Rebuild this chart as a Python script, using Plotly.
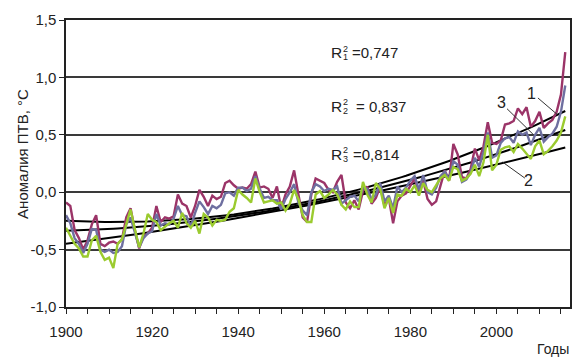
import numpy as np
import plotly.graph_objects as go

years = list(range(1900, 2017))

# Series 1 (maroon)
s1 = [
    -0.09, -0.12, -0.33, -0.40, -0.50, -0.42, -0.28, -0.20, -0.45, -0.47,   # 1900-1909
    -0.44, -0.43, -0.45, -0.41, -0.22, -0.14, -0.33, -0.49, -0.38, -0.36,   # 1910-1919
    -0.31, -0.12, -0.26, -0.22, -0.23, -0.21, -0.02, -0.10, -0.12, -0.22,   # 1920-1929
    -0.12,  0.02, -0.04, -0.12, -0.03, -0.06, -0.04,  0.08,  0.10,  0.06,   # 1930-1939
     0.03,  0.04,  0.03,  0.07,  0.18,  0.04,  0.05,  0.03, -0.05,  0.05,   # 1940-1949
    -0.14, -0.02,  0.05,  0.19, -0.02, -0.22, -0.26, -0.02,  0.12,  0.10,   # 1950-1959
     0.08,  0.02,  0.00,  0.09,  0.15, -0.09, -0.14, -0.07, -0.15,  0.01,   # 1960-1969
     0.05, -0.10, -0.05,  0.05, -0.12, -0.05, -0.27, -0.08, -0.03, -0.01,   # 1970-1979
     0.06,  0.12,  0.00,  0.10, -0.06, -0.11, -0.08,  0.05,  0.19,  0.10,   # 1980-1989
     0.42,  0.33,  0.13,  0.12,  0.20,  0.38,  0.28,  0.40,  0.61,  0.43,   # 1990-1999
     0.42,  0.45,  0.59,  0.60,  0.62,  0.73,  0.68,  0.74,  0.57,  0.62,   # 2000-2009
     0.70,  0.56,  0.60,  0.63,  0.70,  0.85,  1.22,                        # 2010-2016
]

# Series 2 (green)
s2 = [
    -0.31, -0.38, -0.45, -0.49, -0.56, -0.56, -0.42, -0.38, -0.52, -0.59,
    -0.57, -0.66, -0.45, -0.41, -0.28, -0.15, -0.32, -0.48, -0.36, -0.19,
    -0.24, -0.26, -0.33, -0.30, -0.27, -0.25, -0.31, -0.18, -0.27, -0.31,
    -0.25, -0.36, -0.19, -0.22, -0.29, -0.24, -0.25, -0.24, -0.17, -0.14,
     0.02, -0.02, -0.05, -0.09,  0.12,  0.00, -0.09, -0.08, -0.07, -0.10,
    -0.09, -0.16, -0.10,  0.02, -0.06, -0.20, -0.26, -0.26, -0.02,  0.01,
    -0.05, -0.02,  0.02, -0.02, -0.11, -0.15, -0.08, -0.13, -0.13,  0.09,
    -0.02, -0.09,  0.08,  0.03, -0.14, -0.05, -0.18, -0.02, -0.03,  0.03,
     0.00,  0.06, -0.03,  0.08,  0.02,  0.00,  0.06,  0.12,  0.15,  0.10,
     0.22,  0.20,  0.10,  0.12,  0.16,  0.24,  0.14,  0.26,  0.50,  0.19,
     0.24,  0.37,  0.39,  0.40,  0.35,  0.42,  0.38,  0.33,  0.29,  0.40,
     0.45,  0.33,  0.36,  0.40,  0.45,  0.52,  0.66,
]

# Series 3 (slate blue)
s3 = [
    -0.20, -0.27, -0.40, -0.45, -0.53, -0.45, -0.32, -0.33, -0.50, -0.52,
    -0.50, -0.53, -0.52, -0.47, -0.28, -0.22, -0.35, -0.48, -0.40, -0.36,
    -0.34, -0.19, -0.29, -0.27, -0.28, -0.23, -0.12, -0.20, -0.21, -0.30,
    -0.18, -0.08, -0.13, -0.19, -0.12, -0.14, -0.11, -0.01,  0.00, -0.03,
     0.04,  0.04,  0.01,  0.03,  0.14,  0.03, -0.05, -0.04, -0.07, -0.07,
    -0.15, -0.06,  0.00,  0.07, -0.09, -0.16, -0.20,  0.00,  0.07,  0.05,
     0.01,  0.03,  0.02,  0.05, -0.10, -0.07, -0.04, -0.03, -0.08,  0.04,
     0.03, -0.06, -0.02,  0.08, -0.08, -0.03, -0.14,  0.05,  0.00,  0.04,
     0.10,  0.14,  0.02,  0.15,  0.00, -0.02,  0.04,  0.14,  0.18,  0.11,
     0.27,  0.24,  0.09,  0.11,  0.17,  0.30,  0.22,  0.35,  0.52,  0.30,
     0.32,  0.43,  0.47,  0.48,  0.43,  0.53,  0.50,  0.52,  0.41,  0.50,
     0.56,  0.44,  0.48,  0.51,  0.57,  0.70,  0.93,
]

# Quadratic trend curves: points
trend_years = [1900, 1912, 1945, 1982, 1990.5, 2016]
trend1_pts = [-0.255, -0.26, -0.14, 0.15, 0.30, 0.715]
trend3_pts = [-0.34, -0.32, -0.15, 0.09, 0.23, 0.55]
trend2_pts = [-0.45, -0.40, -0.16, 0.05, 0.16, 0.40]

x_ticks = [1900, 1920, 1940, 1960, 1980, 2000]
y_ticks = [-1.0, -0.5, 0.0, 0.5, 1.0, 1.5]
y_tick_text = ["-1,0", "-0,5", "0,0", "0,5", "1,0", "1,5"]
r2_labels = [("1", "=0,747"), ("2", "= 0,837"), ("3", "=0,814")]
series_numbers = ["1", "2", "3"]

C1, C2, C3 = "#9B3468", "#9BCB2F", "#6E6FA0"
FONT = "Liberation Sans, Arial, sans-serif"

yrs = np.array(years, dtype=float)
fig = go.Figure()

# quadratic (2nd-order polynomial) trend lines
for pts in (trend1_pts, trend3_pts, trend2_pts):
    coef = np.polyfit(np.array(trend_years), np.array(pts), 2)
    fig.add_trace(go.Scatter(x=years, y=np.polyval(coef, yrs), mode="lines",
                             line=dict(color="black", width=2), hoverinfo="skip"))

for s, c in ((s1, C1), (s3, C3), (s2, C2)):
    fig.add_trace(go.Scatter(x=years, y=s, mode="lines",
                             line=dict(color=c, width=2.4)))

# plot area in pixels
L, R, T, B = 66, 571.7, 13.3, 306.7


def px(xp):
    return (xp - L) / (R - L)


def py(yp):
    return (B - yp) / (B - T)


ann = []
# y title
ann.append(dict(text="Аномалия ПТВ, °С", textangle=-90, x=px(12), y=py(82),
                xref="paper", yref="paper", showarrow=False,
                font=dict(size=15, color="#222")))
# x title
ann.append(dict(text="Годы", x=px(573), y=py(350), xref="paper", yref="paper",
                xanchor="right", yanchor="middle", showarrow=False,
                font=dict(size=14, color="#222")))

# R^2 labels with stacked sub/superscripts
r2_rows = [47, 102, 151]
eq_x = [351, 355, 351.5]
for (sub, txt), yc, ex in zip(r2_labels, r2_rows, eq_x):
    ann.append(dict(text="R", x=px(330), y=py(yc), xref="paper", yref="paper",
                    xanchor="left", yanchor="middle", showarrow=False,
                    font=dict(size=15.5, color="#222")))
    ann.append(dict(text="2", x=px(341.5), y=py(yc - 4.5), xref="paper", yref="paper",
                    xanchor="left", yanchor="middle", showarrow=False,
                    font=dict(size=9, color="#222")))
    ann.append(dict(text=sub, x=px(341.5), y=py(yc + 4.5), xref="paper", yref="paper",
                    xanchor="left", yanchor="middle", showarrow=False,
                    font=dict(size=9, color="#222")))
    ann.append(dict(text=txt, x=px(ex), y=py(yc), xref="paper", yref="paper",
                    xanchor="left", yanchor="middle", showarrow=False,
                    font=dict(size=15, color="#222")))

# series number labels
num_pos = {"1": (533.5, 88), "3": (502.5, 98), "2": (530, 177.5)}
for n in series_numbers:
    xp, yp = num_pos[n]
    ann.append(dict(text=n, x=px(xp), y=py(yp), xref="paper", yref="paper",
                    xanchor="center", yanchor="middle", showarrow=False,
                    font=dict(size=16, color="#222")))

shapes = []
for (x0, y0, x1, y1) in [(539.5, 93, 559, 110), (508.5, 104, 534.5, 130), (526.5, 175, 504, 158.5)]:
    shapes.append(dict(type="line", xref="paper", yref="paper",
                       x0=px(x0), y0=py(y0), x1=px(x1), y1=py(y1),
                       line=dict(color="#333", width=1)))

fig.update_layout(
    width=583, height=361,
    margin=dict(l=L, r=583 - R, t=T, b=361 - B),
    paper_bgcolor="white", plot_bgcolor="white",
    showlegend=False,
    font=dict(family=FONT, size=15, color="#222"),
    annotations=ann, shapes=shapes,
)
fig.update_xaxes(range=[1900, 2017.1], tickvals=x_ticks, ticks="outside", ticklen=5,
                 tickwidth=1.3, tickcolor="#222", showgrid=False, zeroline=False,
                 showline=True, linecolor="#222", linewidth=1.5, mirror=True,
                 ticklabelstandoff=5,
                 minor=dict(dtick=5, tick0=1900, ticks="outside", ticklen=5,
                            tickwidth=1.3, tickcolor="#222", showgrid=False),
                 tickfont=dict(size=15))
fig.update_yaxes(range=[-1.0, 1.5], tickvals=y_ticks, ticktext=y_tick_text,
                 ticks="outside", ticklen=5, tickwidth=1.3, tickcolor="#222",
                 showgrid=True, gridcolor="#3a3a3a", gridwidth=1.5, zeroline=False,
                 showline=True, linecolor="#222", linewidth=1.5, mirror=True,
                 tickfont=dict(size=15))

fig.write_html("out.html", config={"displayModeBar": False},
               post_script="document.body.style.margin='0';document.body.style.overflow='hidden';")
